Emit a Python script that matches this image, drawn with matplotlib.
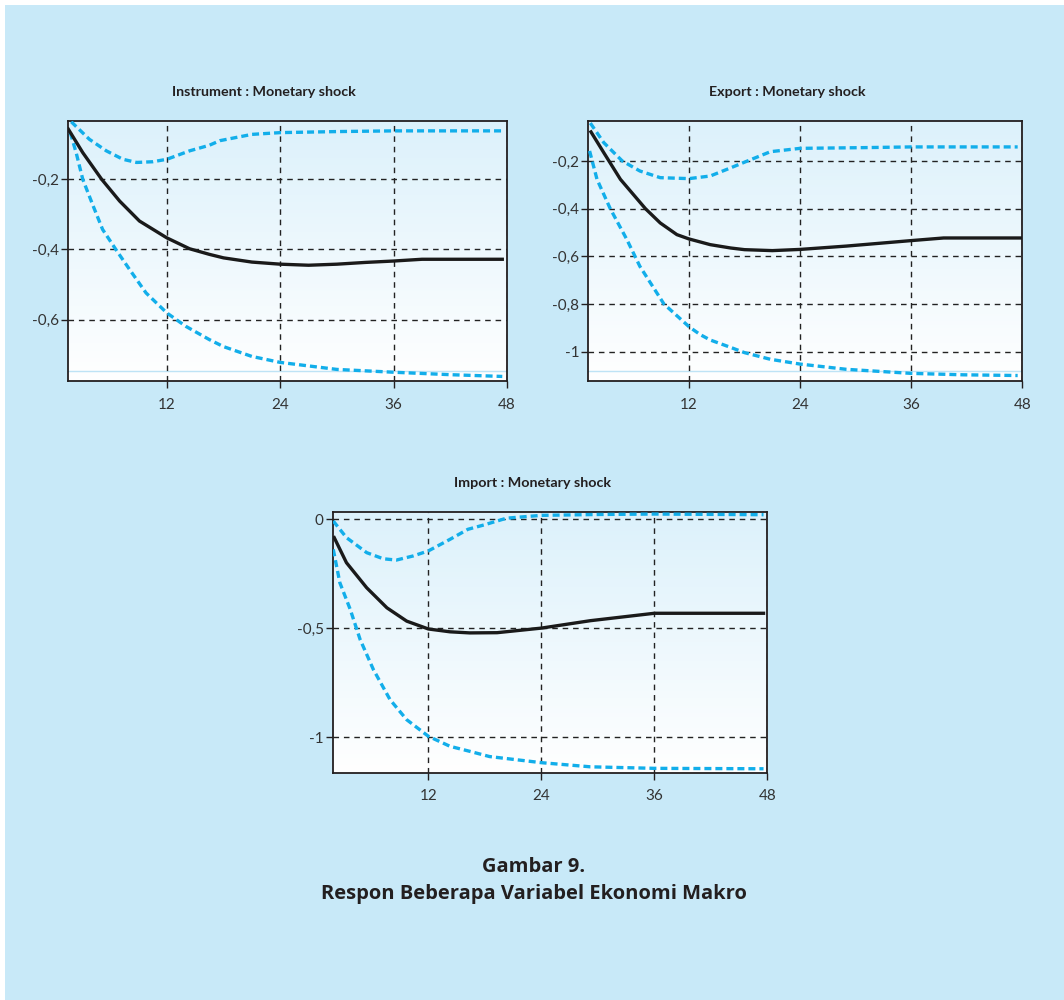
import numpy as np
import matplotlib
matplotlib.use('Agg')
import matplotlib.pyplot as plt
from matplotlib.patches import Rectangle
from matplotlib.colors import LinearSegmentedColormap
from matplotlib.ticker import FuncFormatter

# impulse responses to a monetary shock
# Instrument
inst_mid_x = [1.57, 3.1, 5.1, 7.0, 9.1, 12, 14.4, 16.5, 18, 21, 24, 27, 30, 33, 36, 39, 42, 47.5]
inst_mid = [-0.057, -0.124, -0.200, -0.262, -0.319, -0.367, -0.398, -0.414, -0.424, -0.436,
            -0.442, -0.445, -0.442, -0.437, -0.433, -0.428, -0.428, -0.428]
inst_up_x = [1.88, 3.8, 5.6, 7.35, 8.8, 10.5, 12, 14.4, 16.5, 17.6, 21, 24, 30, 36, 47.5]
inst_up = [-0.036, -0.086, -0.119, -0.143, -0.152, -0.150, -0.143, -0.119, -0.103, -0.090,
           -0.072, -0.067, -0.064, -0.062, -0.062]
inst_lo_x = [1.78, 2.4, 3.1, 4.2, 5.2, 6.6, 8.05, 9.8, 12, 14, 16.5, 18, 21, 24, 30, 36, 42, 47.5]
inst_lo = [-0.067, -0.124, -0.200, -0.276, -0.343, -0.400, -0.457, -0.524, -0.581, -0.619,
           -0.657, -0.677, -0.705, -0.722, -0.742, -0.750, -0.757, -0.762]

# Export
exp_mid_x = [1.42, 2.8, 4.6, 7.3, 8.9, 10.7, 12, 14.3, 16.5, 18, 21, 24, 29, 36, 39.5, 47.8]
exp_mid = [-0.078, -0.165, -0.277, -0.400, -0.460, -0.509, -0.527, -0.551, -0.565, -0.572,
           -0.576, -0.571, -0.557, -0.534, -0.523, -0.523]
exp_up_x = [1.35, 2.8, 4.8, 6.7, 8.9, 12, 14.3, 16.3, 18, 20.8, 24, 30.8, 36, 47.5]
exp_up = [-0.041, -0.123, -0.200, -0.242, -0.270, -0.274, -0.263, -0.232, -0.205, -0.161,
          -0.147, -0.144, -0.141, -0.141]
exp_lo_x = [1.27, 2.07, 3.5, 5.3, 6.7, 9.3, 12, 13.2, 14.3, 16.5, 18, 20.8, 24, 29, 36, 41.6, 47.5]
exp_lo = [-0.158, -0.277, -0.400, -0.530, -0.642, -0.800, -0.895, -0.928, -0.951, -0.982,
          -1.004, -1.032, -1.052, -1.074, -1.091, -1.097, -1.100]

# Import
imp_mid_x = [2.0, 3.3, 5.45, 7.6, 9.7, 12, 14.3, 16.4, 19.3, 24, 29.2, 36, 47.6]
imp_mid = [-0.084, -0.199, -0.314, -0.406, -0.467, -0.503, -0.516, -0.521, -0.520, -0.499,
           -0.465, -0.431, -0.431]
imp_up_x = [1.9, 3.3, 5.45, 7.2, 8.6, 10.4, 12, 14.3, 16.2, 17.9, 20.3, 24, 30, 36, 47.6]
imp_up = [-0.008, -0.084, -0.153, -0.181, -0.187, -0.168, -0.145, -0.092, -0.046, -0.026,
          0.005, 0.018, 0.022, 0.024, 0.021]
imp_lo_x = [1.9, 2.6, 3.7, 4.75, 6.16, 7.93, 9.7, 12, 14.3, 16.4, 18.5, 24, 29.2, 36, 47.6]
imp_lo = [-0.138, -0.291, -0.413, -0.551, -0.689, -0.827, -0.919, -0.995, -1.041, -1.064,
          -1.088, -1.116, -1.135, -1.142, -1.144]

x_ticks = [12, 24, 36, 48]

BG = '#C8E9F8'
BLUE = '#12AEEA'
INK = '#231F20'
plt.rcParams['font.family'] = ['Lato', 'DejaVu Sans']

W, H = 1064, 1000
fig = plt.figure(figsize=(W / 100, H / 100), dpi=100, facecolor='white')
fig.patches.append(Rectangle((5 / W, 0), 1, 1 - 5 / H, transform=fig.transFigure,
                             facecolor=BG, edgecolor='none', zorder=-10))

grad_cmap = LinearSegmentedColormap.from_list('panel', ['#DCF1FB', '#FFFFFF'])


def comma(v, pos):
    return ('%g' % v).replace('.', ',')


def panel(box, title, title_cx, xlim, ylim, yticks, mid, up, lo, floor=None):
    left, top, right, bottom = box
    ax = fig.add_axes([left / W, 1 - bottom / H, (right - left) / W, (bottom - top) / H])
    ax.imshow(np.linspace(0, 1, 256).reshape(-1, 1), extent=(0, 1, 0, 1),
              transform=ax.transAxes, aspect='auto', cmap=grad_cmap, zorder=0)
    if floor is not None:
        ax.axhline(floor, color='#BFE3F5', lw=1, zorder=1)
    ax.grid(True, color='#222222', linestyle=(0, (4, 3.5)), linewidth=1.0, zorder=2)
    ax.plot(up[0], up[1], color=BLUE, lw=2.4, dashes=(2.1, 1.2), zorder=3)
    ax.plot(lo[0], lo[1], color=BLUE, lw=2.4, dashes=(2.1, 1.2), zorder=3)
    ax.plot(mid[0], mid[1], color='#1A1A1A', lw=2.4, zorder=4)
    ax.set_xlim(*xlim)
    ax.set_ylim(*ylim)
    ax.set_xticks(x_ticks)
    ax.set_yticks(yticks)
    ax.yaxis.set_major_formatter(FuncFormatter(comma))
    ax.tick_params(axis='both', direction='out', length=5, width=1, color=INK,
                   labelsize=11, labelcolor='#333333')
    ax.tick_params(axis='x', pad=7)
    ax.tick_params(axis='y', pad=1.5)
    for s in ax.spines.values():
        s.set_linewidth(1.3)
        s.set_color(INK)
    fig.text(title_cx / W, 1 - (top - 29) / H, title, ha='center', va='center',
             fontsize=10.3, fontweight='bold', color=INK)
    return ax


panel((68.3, 120.7, 507, 381), 'Instrument : Monetary shock', 264,
      (1.57, 48), (-0.775, -0.033), [-0.6, -0.4, -0.2],
      (inst_mid_x, inst_mid), (inst_up_x, inst_up), (inst_lo_x, inst_lo), floor=-0.746)
panel((588.3, 120.7, 1022.3, 381), 'Export : Monetary shock', 787,
      (1.13, 48), (-1.123, -0.031), [-1, -0.8, -0.6, -0.4, -0.2],
      (exp_mid_x, exp_mid), (exp_up_x, exp_up), (exp_lo_x, exp_lo), floor=-1.081)
panel((332.7, 512.3, 767.3, 772.7), 'Import : Monetary shock', 532,
      (1.84, 48), (-1.162, 0.032), [-1, -0.5, 0],
      (imp_mid_x, imp_mid), (imp_up_x, imp_up), (imp_lo_x, imp_lo))

fig.text(534 / W, 1 - 866.7 / H, 'Gambar 9.', ha='center', va='center',
         family=['Open Sans', 'DejaVu Sans'], fontweight='bold', fontsize=14.5, color=INK)
fig.text(534 / W, 1 - 894 / H, 'Respon Beberapa Variabel Ekonomi Makro', ha='center',
         va='center', family=['Open Sans', 'DejaVu Sans'], fontweight='bold', fontsize=14.5,
         color=INK)

fig.savefig('out.png', dpi=100, facecolor=fig.get_facecolor())
